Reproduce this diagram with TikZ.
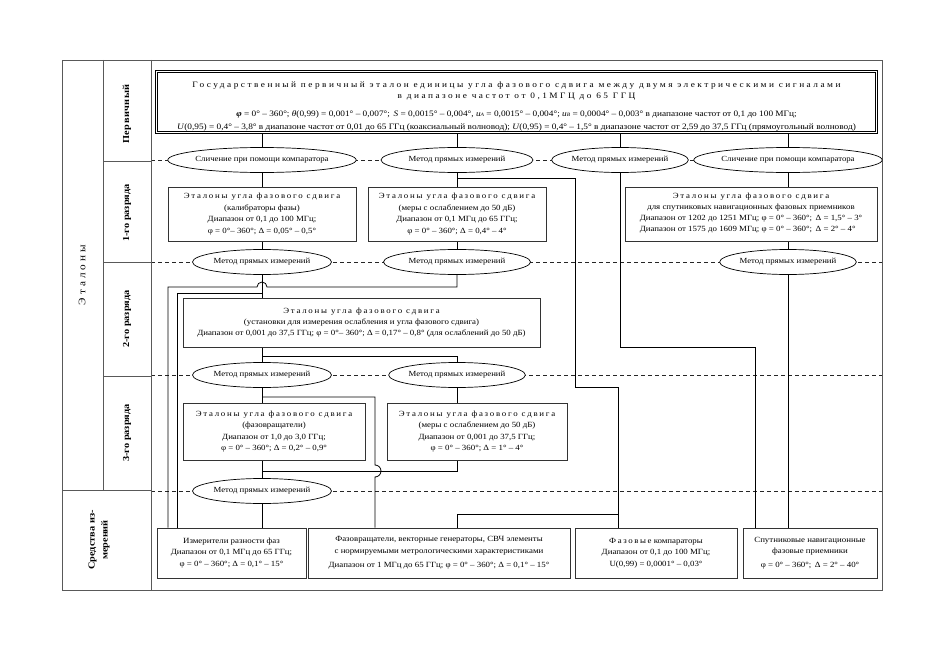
\documentclass[tikz,border=0pt]{standalone}
\usepackage{fontspec}
\setmainfont{Liberation Serif}[FakeStretch=1.12]
\usetikzlibrary{shapes.geometric,backgrounds}
\newcommand\fsb{\fontsize{7.9}{11.4}\selectfont}
\newcommand\fst{\fontsize{8.3}{11}\selectfont}
\newcommand\fse{\fontsize{7.8}{9}\selectfont}
\newcommand\lsp[2][22]{{\addfontfeature{LetterSpace=#1}#2}}
\begin{document}
\begin{tikzpicture}[x=1pt,y=-1pt,
  frame/.style={draw=black!65,line width=0.8pt},
  stdbox/.style={draw=black!80,line width=0.7pt,fill=white,rectangle,inner sep=1pt,align=center,font=\fsb},
  oval/.style={draw=black,line width=0.7pt,fill=white,ellipse,inner sep=0pt,minimum height=25pt,font=\fse},
  conn/.style={draw=black,line width=0.8pt},
  dsh/.style={draw=black!85,line width=0.7pt,dash pattern=on 4pt off 3pt},
  lab/.style={rotate=90,font=\fontsize{10}{12}\selectfont,align=center},
  labb/.style={rotate=90,font=\fontsize{9.2}{13}\selectfont\bfseries,align=center}]
\useasboundingbox (0,0) rectangle (935,661);
% frame
\draw[frame] (62,60) rectangle (882,590);
\draw[frame] (103,60) -- (103,490);
\draw[frame] (151,60) -- (151,590);
\draw[frame] (62,490) -- (151,490);
\draw[frame] (103,161) -- (151,161);
\draw[frame] (103,262) -- (151,262);
\draw[frame] (103,376) -- (151,376);
% side labels
\node[lab] (lEt) at (82,275) {\lsp[30]{Эталоны}};
\node[labb] (lP) at (127,114) {\lsp[5]{Первичный}};
\node[labb] (l1) at (127,213) {1-го разряда};
\node[labb] (l2) at (127,319) {2-го разряда};
\node[labb] (l3) at (127,433) {3-го разряда};
\node[labb] (l4) at (99,540) {Средства из-\\мерений};
% top box
\node[draw=black,line width=1.6pt,fill=white,minimum width=722pt,minimum height=63pt,inner sep=0pt] (top) at (516.5,102) {};
\draw[line width=0.5pt] ([shift={(3,3)}]top.north west) rectangle ([shift={(-3,-3)}]top.south east);
\node[align=center,font=\fst,inner sep=0pt] (toptext) at (516.5,106.5)
 {\lsp[30]{Государственный первичный эталон единицы угла фазового сдвига между двумя электрическими сигналами}\\[-0.5pt]
  \lsp[30]{в диапазоне частот от 0,1МГЦ до 65 ГГЦ}\\[7pt]
  {\bfseries\itshape φ} = 0° – 360°; \textit{θ}(0,99) = 0,001° – 0,007°;\, \textit{S} = 0,0015° – 0,004°, \textit{u}{\fontsize{5}{5}\selectfont\textit{A}} = 0,0015° – 0,004°; \textit{u}{\fontsize{5}{5}\selectfont\textit{B}} = 0,0004° – 0,003° в диапазоне частот от 0,1 до 100 МГц;\\[2pt]
  \textit{U}(0,95) = 0,4° – 3,8° в диапазоне частот от 0,01 до 65 ГГц (коаксиальный волновод); \textit{U}(0,95) = 0,4° – 1,5° в диапазоне частот от 2,59 до 37,5 ГГц (прямоугольный волновод)};
% ellipses row 1
\node[oval,minimum width=178pt] (e1) at (262,160) {Сличение при помощи компаратора};
\node[oval,minimum width=152pt] (e2) at (457,160) {Метод прямых измерений};
\node[oval,minimum width=136pt] (e3) at (620,160) {Метод прямых измерений};
\node[oval,minimum width=167pt] (e4) at (788,160) {Сличение при помощи компаратора};
% boxes row 1
\node[stdbox,minimum width=188pt,minimum height=54pt] (b1) at (262,214)
 {\lsp{Эталоны угла фазового сдвига}\\(калибраторы фазы)\\Диапазон от 0,1 до 100 МГц;\\φ = 0°– 360°; Δ = 0,05° – 0,5°};
\node[stdbox,minimum width=178pt,minimum height=54pt] (b2) at (457,214)
 {\lsp{Эталоны угла фазового сдвига}\\(меры с ослаблением до 50 дБ)\\Диапазон от 0,1 МГц до 65 ГГц;\\φ = 0° – 360°; Δ = 0,4° – 4°};
\node[stdbox,minimum width=252pt,minimum height=54pt] (b3) at (751,214)
 {\lsp{Эталоны угла фазового сдвига}\\для спутниковых навигационных фазовых приемников\\
  \begin{tabular}{@{}l@{}}Диапазон от 1202 до 1251 МГц; φ = 0° – 360°;\, Δ = 1,5° – 3°\\Диапазон от 1575 до 1609 МГц; φ = 0° – 360°;\, Δ = 2° – 4°\end{tabular}};
% ellipses row 2
\node[oval,minimum width=139pt] (e5) at (262,262) {Метод прямых измерений};
\node[oval,minimum width=147pt] (e6) at (457,262) {Метод прямых измерений};
\node[oval,minimum width=133pt] (e7) at (788,262) {Метод прямых измерений};
% box row 2
\node[stdbox,minimum width=357pt,minimum height=49pt] (b4) at (361.5,322.5)
 {\lsp{Эталоны угла фазового сдвига}\\(установки для измерения ослабления и угла фазового сдвига)\\Диапазон от 0,001 до 37,5 ГГц; φ = 0°– 360°; Δ = 0,17° – 0,8° (для ослаблений до 50 дБ)};
% ellipses row 3
\node[oval,minimum width=139pt] (e8) at (262,375) {Метод прямых измерений};
\node[oval,minimum width=136pt] (e9) at (457,375) {Метод прямых измерений};
% boxes row 3
\node[stdbox,minimum width=182pt,minimum height=57pt] (b5) at (274,431.5)
 {\lsp{Эталоны угла фазового сдвига}\\(фазовращатели)\\Диапазон от 1,0 до 3,0 ГГц;\\φ = 0° – 360°; Δ = 0,2° – 0,9°};
\node[stdbox,minimum width=180pt,minimum height=57pt] (b6) at (477,431.5)
 {\lsp{Эталоны угла фазового сдвига}\\(меры с ослаблением до 50 дБ)\\Диапазон от 0,001 до 37,5 ГГц;\\φ = 0° – 360°; Δ = 1° – 4°};
% ellipse row 4
\node[oval,minimum width=139pt] (e10) at (262,491) {Метод прямых измерений};
% bottom boxes
\node[stdbox,minimum width=149pt,minimum height=50pt] (b7) at (231.5,553)
 {Измерители разности фаз\\Диапазон от 0,1 МГц до 65 ГГц;\\φ = 0° – 360°; Δ = 0,1° – 15°};
\node[stdbox,minimum width=262pt,minimum height=50pt] (b8) at (439,553)
 {Фазовращатели, векторные генераторы, СВЧ элементы\\с нормируемыми метрологическими характеристиками\\[3pt]Диапазон от 1 МГц до 65 ГГц; φ = 0° – 360°; Δ = 0,1° – 15°};
\node[stdbox,minimum width=162pt,minimum height=50pt] (b9) at (656,553)
 {\lsp[20]{Фазовые} компараторы\\Диапазон от 0,1 до 100 МГц;\\U(0,99) = 0,0001° – 0,03°};
\node[stdbox,minimum width=134pt,minimum height=50pt] (b10) at (810,553)
 {Спутниковые навигационные\\фазовые приемники\\[2pt]φ = 0° – 360°;\, Δ = 2° – 40°};
% helper coordinates
\coordinate (j1) at (457,178);
\coordinate (r1) at (575,178);
\coordinate (r2) at (575,387);
\coordinate (r3) at (618,387);
\coordinate (j2) at (618,514);
\coordinate (r4) at (457,514);
\coordinate (s1) at (620,347);
\coordinate (s2) at (755,347);
\coordinate (j3) at (262,293);
\coordinate (t1) at (177,293);
\coordinate (t2) at (457,287);
\coordinate (t3) at (168,287);
\coordinate (j4) at (262,356);
\coordinate (t4) at (457,356);
\coordinate (j5) at (262,397);
\coordinate (t5) at (375,397);
\coordinate (t6) at (457,471);
\coordinate (j6) at (262,471);
\begin{scope}[on background layer]
\draw[dsh] (151,160) -- (882,160);
\draw[dsh] (151,262) -- (882,262);
\draw[dsh] (151,375) -- (882,375);
\draw[dsh] (151,491) -- (882,491);
% connectors
\draw[conn] (top.south -| e1.north) -- (e1.north);
\draw[conn] (top.south -| e2.north) -- (e2.north);
\draw[conn] (top.south -| e3.north) -- (e3.north);
\draw[conn] (top.south -| e4.north) -- (e4.north);
\draw[conn] (e1.south) -- (b1.north);
\draw[conn] (e2.south) -- (b2.north);
\draw[conn] (j1) -- (r1) -- (r2) -- (r3) -- (r3 |- b9.north);
\draw[conn] (j2) -- (r4) -- (r4 |- b8.north);
\draw[conn] (e3.south) -- (s1) -- (s2) -- (s2 |- b10.north);
\draw[conn] (e4.south) -- (b3.north -| e4.south);
\draw[conn] (b3.south -| e7.north) -- (e7.north);
\draw[conn] (e7.south) -- (b10.north -| e7.south);
\draw[conn] (b1.south) -- (e5.north);
\draw[conn] (e5.south) -- (b4.north -| e5.south);
\draw[conn] (j3) -- (t1) -- (t1 |- b7.north);
\draw[conn] (b2.south) -- (e6.north);
\draw[conn] (e6.south) -- (t2) -- (267,287) arc[start angle=0,end angle=-180,radius=5] -- (t3) -- (t3 |- b7.north);
\draw[conn] (b4.south -| e8.north) -- (e8.north);
\draw[conn] (j4) -- (t4) -- (e9.north);
\draw[conn] (e8.south) -- (b5.north -| e8.south);
\draw[conn] (j5) -- (t5) -- (375,465) arc[start angle=-90,end angle=90,radius=6] -- (t5 |- b8.north);
\draw[conn] (e9.south) -- (b6.north -| e9.south);
\draw[conn] (b6.south -| e9.south) -- (t6) -- (j6);
\draw[conn] (b5.south -| e10.north) -- (e10.north);
\draw[conn] (e10.south) -- (b7.north -| e10.south);
\end{scope}
\end{tikzpicture}
\end{document}
